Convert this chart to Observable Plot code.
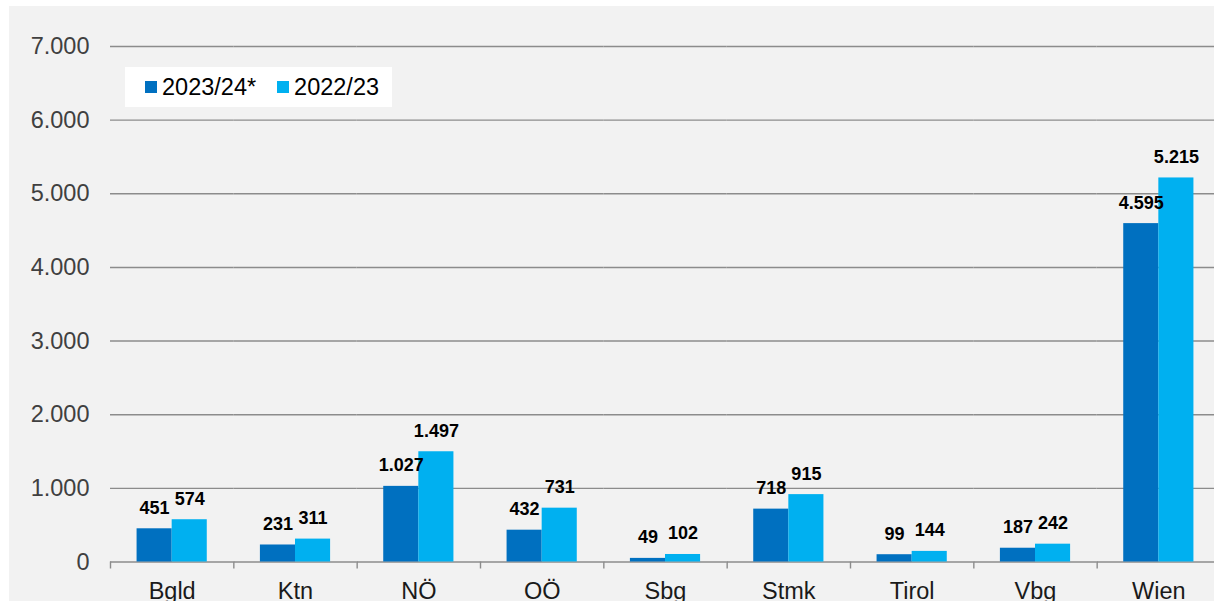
<!DOCTYPE html>
<html>
<head>
<meta charset="utf-8">
<script src="https://cdn.jsdelivr.net/npm/d3@7"></script>
<script src="https://cdn.jsdelivr.net/npm/@observablehq/plot@0.6"></script>
<style>
html, body { margin: 0; padding: 0; background: #ffffff; width: 1214px; height: 601px; overflow: hidden; }
#wrap { position: absolute; left: 9px; top: 6px; width: 1205px; height: 595px; background: #f2f2f2; overflow: hidden;
  font-family: "Liberation Sans", Arial, sans-serif; }
#chart { position: absolute; left: 0; top: 0; }
#legend { position: absolute; left: 116px; top: 61px; width: 267px; height: 40px; background: #ffffff;
  display: flex; align-items: center; box-sizing: border-box; padding-left: 20px; }
#legend .item { display: flex; align-items: center; margin-right: 21px; font-size: 23.5px; color: #000; }
#legend .sw { width: 12px; height: 12px; margin-right: 5px; }
</style>
</head>
<body>
<div id="wrap">
  <div id="chart"></div>
  <div id="legend"></div>
</div>
<script>
const regions = ["Bgld", "Ktn", "NÖ", "OÖ", "Sbg", "Stmk", "Tirol", "Vbg", "Wien"];
const series = ["2023/24*", "2022/23"];
const values2324 = [451, 231, 1027, 432, 49, 718, 99, 187, 4595];
const values2223 = [574, 311, 1497, 731, 102, 915, 144, 242, 5215];
const yTicks = [0, 1000, 2000, 3000, 4000, 5000, 6000, 7000];
const colors = ["#0070C0", "#00B0F0"];

const fmt = d3.formatLocale({decimal: ",", thousands: ".", grouping: [3], currency: ["", " €"]}).format(",d");

const rows = [];
regions.forEach((r, i) => {
  rows.push({region: r, series: series[0], value: values2324[i]});
  rows.push({region: r, series: series[1], value: values2223[i]});
});

const W = 1211, H = 595, ML = 101, MR = 0, MT = 40, MB = 39.5;
const band = (W - ML - MR) / regions.length;

const chart = Plot.plot({
  width: W, height: H,
  marginLeft: ML, marginRight: MR, marginTop: MT, marginBottom: MB,
  style: {background: "transparent", fontFamily: "'Liberation Sans', Arial, sans-serif", maxWidth: "none", overflow: "visible"},
  fx: {domain: regions, padding: 0, label: null, round: false},
  x: {domain: series, paddingInner: 0, paddingOuter: 0.757, axis: null, round: false},
  y: {domain: [0, 7000], label: null, axis: null},
  color: {domain: series, range: colors},
  marks: [
    Plot.gridY(yTicks, {stroke: "#8c8c8c", strokeOpacity: 1, strokeWidth: 1.4}),
    Plot.axisY(yTicks, {anchor: "left", tickSize: 0, tickPadding: 21, tickFormat: fmt, fontSize: 23.5, fill: "#404040", label: null}),
    Plot.axisFx({anchor: "bottom", tickSize: 0, tickPadding: 20, fontSize: 23.5, fill: "#1a1a1a", label: null}),
    Plot.axisFx({anchor: "bottom", tickSize: 7, tickFormat: () => "", stroke: "#8c8c8c", strokeWidth: 1.4, dx: -band / 2, label: null}),
    Plot.barY(rows, {fx: "region", x: "series", y: "value", fill: "series"}),
    Plot.text(rows, {fx: "region", x: "series", y: "value", text: d => fmt(d.value), dy: -15, lineAnchor: "bottom",
      fontWeight: "bold", fontSize: 18, fill: "#000"})
  ]
});
document.getElementById("chart").appendChild(chart);

const legend = document.getElementById("legend");
series.forEach((s, i) => {
  const item = document.createElement("div");
  item.className = "item";
  const sw = document.createElement("span");
  sw.className = "sw";
  sw.style.background = colors[i];
  const t = document.createElement("span");
  t.textContent = s;
  item.appendChild(sw);
  item.appendChild(t);
  legend.appendChild(item);
});
</script>
</body>
</html>
